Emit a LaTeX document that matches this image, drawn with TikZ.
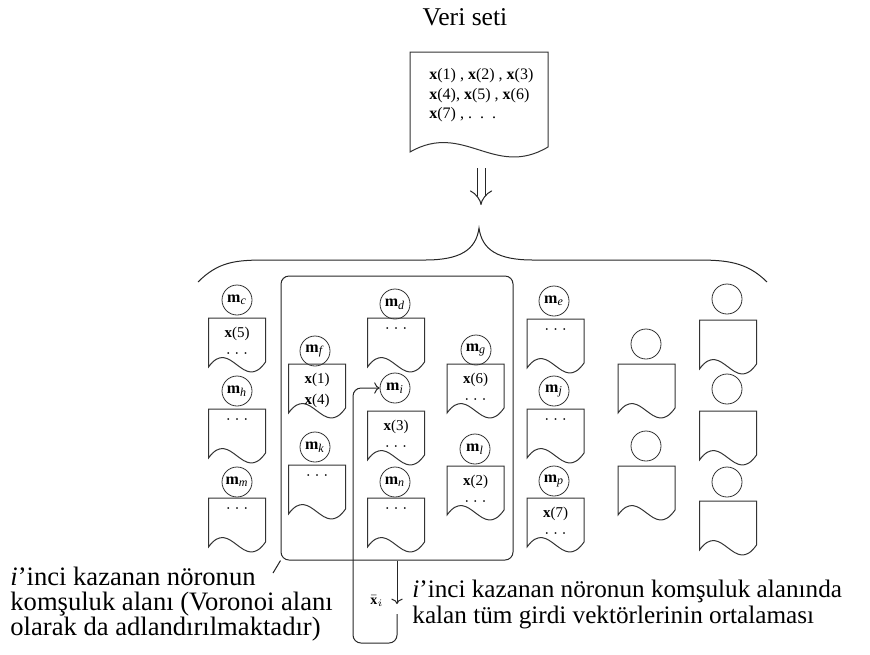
\documentclass[tikz,border=0pt]{standalone}
\usepackage{fontspec}
\setmainfont{Liberation Serif}
\usepackage{amsmath}
\usepackage{tikz}
\usetikzlibrary{arrows.meta, positioning}
\tikzstyle{neuron}=[draw=black!80, circle, minimum size=15pt, inner sep=0pt, font=\fontsize{8}{9}\selectfont]
\tikzstyle{doc}=[draw=black!80, line width=0.5pt]
\tikzstyle{doctext}=[align=center, inner sep=0pt, font=\fontsize{7.5}{10.5}\selectfont]
\tikzstyle{note}=[align=left, inner sep=0pt, font=\fontsize{13.3}{12.4}\selectfont, execute at begin node={\lineskiplimit=-6pt\relax}]
\tikzstyle{line}=[draw=black!85, line width=0.5pt]
\def\xv#1{\textbf{x}(#1)}
\def\mv#1{\textbf{m}\textsubscript{\textit{#1}}}
\def\ddd{· · ·}
% document outline: left x, top y, width, left height
\newcommand{\docpath}[4]{%
  \draw[doc] ({#1},{#2}) -- ({#1+#3},{#2}) -- ({#1+#3},{#2+#4-5})
    .. controls ({#1+0.61*#3},{#2+#4+27}) and ({#1+0.39*#3},{#2+#4-31}) .. ({#1},{#2+#4}) -- cycle;}
% small document with its text: name, centre x, top y, text
\newcommand{\docbox}[4]{%
  \docpath{#2-28.5}{#3}{57}{49}
  \node[doctext, anchor=north] (#1) at (#2,{#3+9}) {#4};}

\begin{document}
\begin{tikzpicture}[x=0.5pt, y=-0.5pt]
		\useasboundingbox (0,0) rectangle (870,654);
		\node[font=\fontsize{12.8}{14}\selectfont] (title) at (465,17) {Veri seti};
		\docpath{410}{52}{138}{100}
		\node[anchor=north west, align=left, inner sep=0pt, font=\fontsize{8}{9.75}\selectfont] (veri) at (429,68)
			{\xv{1} , \xv{2} , \xv{3}\\\xv{4}, \xv{5} , \xv{6}\\\xv{7} , .\ \ .\ \ .};
		\coordinate (ah) at (481,168);
		\coordinate (at) at (481,205);
		\draw[line, double, double distance=3.5pt, -{Implies}] (ah) -- (at);
		\draw[line] (198,282) .. controls (218,262) and (235,260) .. (265,260) -- (425,260)
			.. controls (460,260) and (476,250) .. (479,228)
			.. controls (482,250) and (498,260) .. (533,260) -- (697,260)
			.. controls (727,260) and (747,262) .. (767,282);
	%--------------------
		\node[line, draw, rounded corners=4pt, minimum width=116pt, minimum height=142pt, inner sep=0pt] (vor) at (397,418) {};
		\node[neuron] (mc) at (237,300) {\mv{c}};  \docbox{dc}{237}{318}{\xv{5}\\\ddd}
		\node[neuron] (mh) at (237,391) {\mv{h}};  \docbox{dh}{237}{409}{\ddd}
		\node[neuron] (mm) at (237,482) {\mv{m}};  \docbox{dm}{237}{498}{\ddd}
		\node[neuron] (mf) at (315,351) {\mv{f}};  \docbox{df}{317}{364}{\xv{1}\\\xv{4}}
		\node[neuron] (mk) at (315,447) {\mv{k}};  \docbox{dk}{317}{465}{\ddd}
		\node[neuron] (md) at (395,304) {\mv{d}};  \docbox{dd}{396}{318}{\ddd}
		\node[neuron] (mi) at (395,388) {\mv{i}};  \docbox{di}{396}{411}{\xv{3}\\\ddd}
		\node[neuron] (mn) at (395,482) {\mv{n}};  \docbox{dn}{396}{498}{\ddd}
		\node[neuron] (mg) at (476,350) {\mv{g}};  \docbox{dg}{475.5}{364}{\xv{6}\\\ddd}
		\node[neuron] (ml) at (475,449) {\mv{l}};  \docbox{dl}{475.5}{466}{\xv{2}\\\ddd}
		\node[neuron] (me) at (554,301) {\mv{e}};  \docbox{de}{555.5}{319}{\ddd}
		\node[neuron] (mj) at (554,391) {\mv{j}};  \docbox{dj}{555.5}{409}{\ddd}
		\node[neuron] (mp) at (554,481) {\mv{p}};  \docbox{dp}{555.5}{498}{\xv{7}\\\ddd}
		\node[neuron] (na) at (646,344) {};  \docbox{da}{646.5}{364}{}
		\node[neuron] (nb) at (646,446) {};  \docbox{db}{646.5}{466}{}
		\node[neuron] (nc) at (727,299) {};  \docbox{dc2}{728}{320}{}
		\node[neuron] (nd) at (727,389) {};  \docbox{dd2}{728}{411}{}
		\node[neuron] (ne) at (727,482) {};  \docbox{de2}{728}{501}{}
	%--------------------
		\coordinate (xa) at (397,604);
		\coordinate (xb) at (397,614);
		\draw[line, ->] (vor.south) -- (xa);
		\draw[line, ->, rounded corners=4pt] (xb) |- (353,643) |- (mi.west);
		\node[font=\fontsize{7}{8}\selectfont] (xbar) at (377,601) {$\bar{\mathbf{x}}_i$};
		\node[note, anchor=north west] (voronoi) at (10,567)
			{\textit{i}’inci kazanan nöronun\\komşuluk alanı (Voronoi alanı\\olarak da adlandırılmaktadır)};
		\coordinate (lead) at (273,573);
		\draw[line] (lead) -- (vor.south west);
		\node[note, anchor=north west, font=\fontsize{12.6}{12.6}\selectfont] (mean) at (412,580)
			{\textit{i}’inci kazanan nöronun komşuluk alanında\\kalan tüm girdi vektörlerinin ortalaması};
\end{tikzpicture}
\end{document}
